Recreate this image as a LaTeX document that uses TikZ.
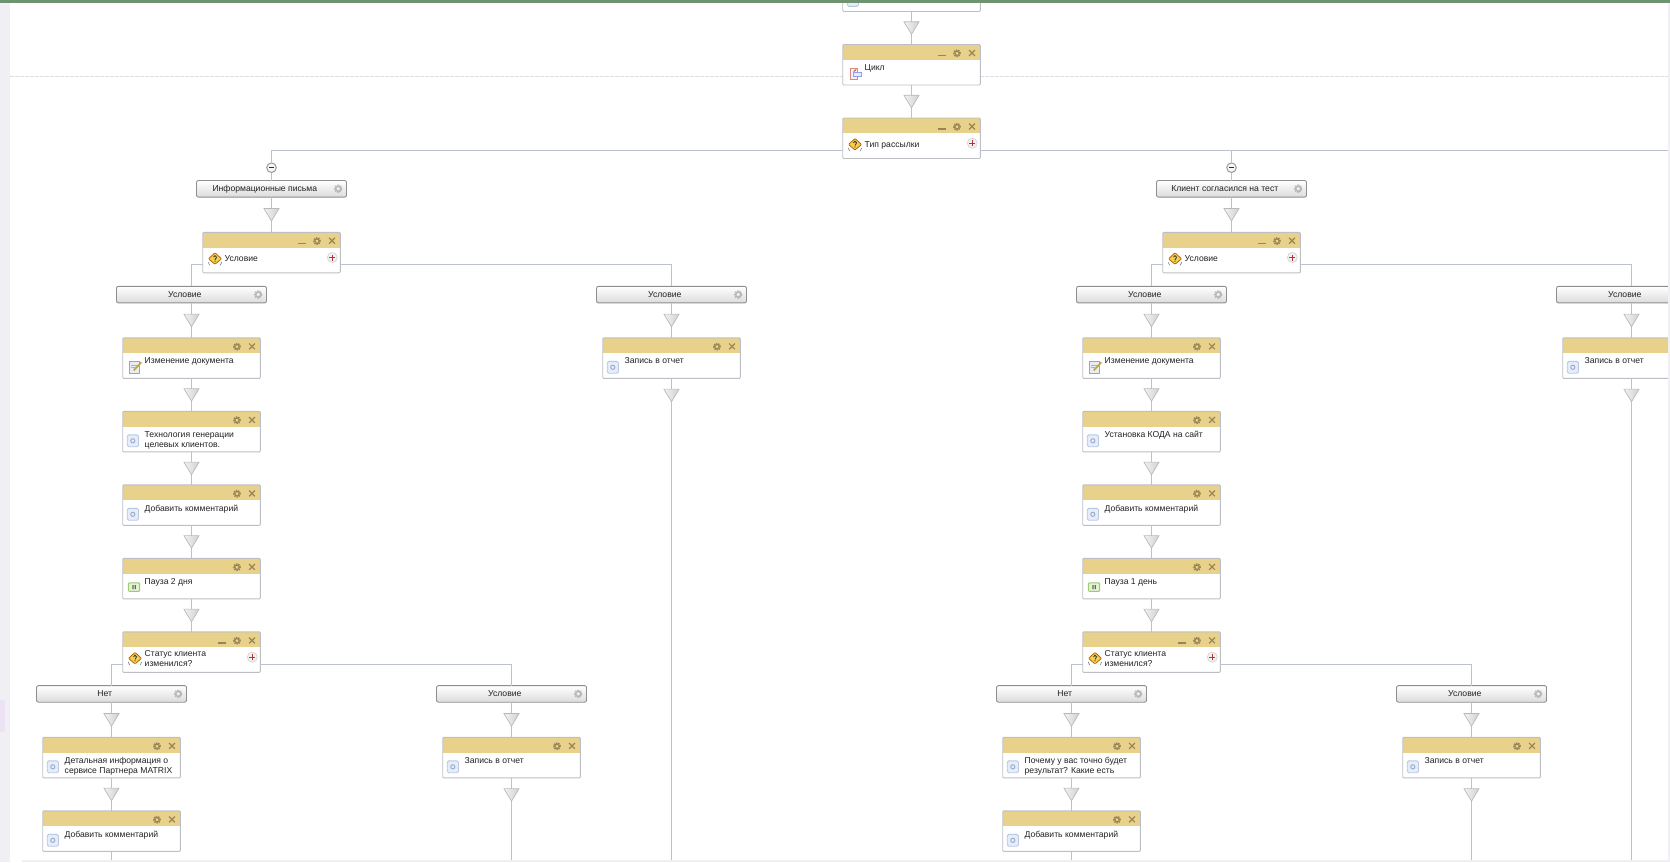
\documentclass[tikz,border=0pt]{standalone}
\usepackage{fontspec}
\setmainfont{Liberation Sans}
\usetikzlibrary{positioning,decorations.markings}
\definecolor{HeadGold}{HTML}{E8D18B}
\definecolor{BoxEdge}{HTML}{BDBFC6}
\definecolor{LinkBlue}{HTML}{BCC1D2}
\definecolor{IconBrown}{HTML}{978554}
\definecolor{TipEdge}{HTML}{B9B9B9}
\definecolor{CaseEdge}{HTML}{8E8E8E}
\definecolor{SideGrey}{HTML}{F0F0F4}
\definecolor{SideLilac}{HTML}{EDE2F3}
\definecolor{TopGreen}{HTML}{6F9270}
\definecolor{InkText}{HTML}{222222}
\definecolor{IconBlue}{HTML}{B7C8E6}
\definecolor{IconPale}{HTML}{E6EDF9}
\definecolor{IconRed}{HTML}{D98A80}
\definecolor{IconGreen}{HTML}{9CCB73}
\definecolor{IconLeaf}{HTML}{E3F2D0}
\definecolor{IconAmber}{HTML}{F3CF4E}
\tikzset{
  gearmark/.pic={\draw[IconBrown,line width=1.6pt,dash pattern=on 1.3pt off 1pt] (0,0) circle (3.1pt);
    \draw[IconBrown,line width=1.2pt] (0,0) circle (2.2pt);},
  closemark/.pic={\draw[IconBrown,line width=1.2pt] (-2.9,-2.9) -- (2.9,2.9) (-2.9,2.9) -- (2.9,-2.9);},
  shrinkmark/.pic={\draw[IconBrown,line width=1.6pt] (-3.8,0) -- (3.8,0);},
  plusmark/.pic={\draw[black!15,fill=black!6,line width=.8pt] (0,0) circle (5pt);
    \draw[red!65!black!80,line width=.9pt] (-3,0) -- (3,0) (0,-3) -- (0,3);},
  svcicon/.pic={\draw[IconBlue,fill=IconPale,line width=.9pt,rounded corners=1.5pt] (4.5,23.5) rectangle (15.8,35.3);
    \draw[IconBlue!85!black,line width=.9pt] (10.1,29.4) circle (2.1pt);},
  condicon/.pic={\draw[black!60,line width=.5pt] (5.5,30) -- (7,33) (19,30) -- (17.5,33);
    \draw[orange!70!black,fill=IconAmber,line width=.7pt,rounded corners=.8pt] (12.3,20.5) -- (18.8,26.5) -- (12.3,32) -- (5.8,26.5) -- cycle;
    \draw[black!80,line width=.8pt] (10.8,24.8) arc[start angle=180,end angle=-50,radius=1.5pt] -- (12.3,27.5) (12.3,28.3) -- (12.3,29.5);},
  loopicon/.pic={\draw[IconRed,fill=red!6,line width=.9pt] (7.5,24) rectangle (14.5,34.5);
    \draw[IconBlue!80!blue,fill=IconPale,line width=.9pt] (10.5,28) rectangle (18.5,32);
    \draw[red!60!black!80,line width=.8pt] (11,27) -- (13.5,25);},
  editicon/.pic={\draw[IconBlue!80!blue,fill=IconPale,line width=.9pt] (6.5,24) rectangle (16.5,35.5);
    \draw[black!30,line width=.6pt] (8.5,27) -- (14.5,27) (8.5,29.5) -- (12.5,29.5);
    \draw[IconAmber!80!black,line width=1.7pt] (11,32.5) -- (18.5,24.5);},
  pauseicon/.pic={\draw[IconGreen,fill=IconLeaf,line width=1pt,rounded corners=1pt] (5.7,24.5) rectangle (17,33);
    \fill[black!60] (9.7,26.8) rectangle (10.9,30.7) (11.9,26.8) rectangle (13.1,30.7);},
  casegear/.pic={\draw[black!28,line width=1.7pt,dash pattern=on 1.4pt off 1pt] (0,0) circle (3.4pt);
    \draw[black!28,line width=1.4pt] (0,0) circle (2.5pt);},
  boxtop/.store in=\boxtop,boxtop=20pt,
  stepbox/.style={draw=BoxEdge,line width=.9pt,rounded corners=1pt,minimum width=137.6pt,minimum height=40.5pt,inner sep=0pt,outer sep=0pt,
    font=\fontsize{8.6}{10}\selectfont,text=InkText,
    execute at begin node={\begin{minipage}[c][40.5pt][t]{137.6pt}\raggedright\leftskip=22pt\vspace*{\boxtop}},
    execute at end node={\end{minipage}},
    append after command={\pgfextra{\begin{scope}[shift={(\tikzlastnode.north west)}]
      \fill[white] (0,0) rectangle (137.6,40.5);
      \fill[HeadGold] (0,0) rectangle (137.6,15.2);
      \pic at (114.3,8.8) {gearmark};
      \pic at (129.3,8.5) {closemark};
      #1
    \end{scope}}}},
  svcbox/.style={stepbox={\pic at (0,0) {svcicon};}},
  editbox/.style={stepbox={\pic at (0,0) {editicon};}},
  pausebox/.style={stepbox={\pic at (0,0) {pauseicon};}},
  loopbox/.style={stepbox={\pic at (0,0) {loopicon};\pic at (99.3,11) {shrinkmark};}},
  condbox/.style={boxtop=#1,stepbox={\pic at (0,0) {condicon};\pic at (99.3,11) {shrinkmark};\pic at (129.6,25.2) {plusmark};}},
  condbox/.default=23.4pt,
  casebtn/.style={draw=CaseEdge,line width=.9pt,rounded corners=2pt,minimum width=150pt,minimum height=16.6pt,inner sep=0pt,outer sep=0pt,
    font=\fontsize{8.6}{10}\selectfont,text=InkText,
    execute at end node={\kern13.4pt},
    append after command={\pgfextra{\shade[top color=white,bottom color=black!14,rounded corners=2pt] (\tikzlastnode.north west) rectangle (\tikzlastnode.south east);
      \pic at ([xshift=-8.3pt]\tikzlastnode.east) {casegear};}}},
  foldmark/.style={circle,draw=LinkBlue!80!black,line width=1pt,minimum size=9.6pt,inner sep=0pt,outer sep=0pt,
    append after command={\pgfextra{\fill[black!3] (\tikzlastnode.center) circle (4.8pt);
      \draw[red!55!black,line width=1.2pt] ([xshift=-2.6pt]\tikzlastnode.center) -- ([xshift=2.6pt]\tikzlastnode.center);}}},
  flowtip/.style={decoration={markings,mark=at position #1 with {\draw[TipEdge,line width=.7pt,left color=black!5,right color=black!18] (-6.3,-7.6) -- (-6.3,7.6) -- (6.3,0) -- cycle;}},postaction={decorate}},
  flowtip/.default=.5,
  link/.style={draw=LinkBlue,line width=1.9pt},
  branch/.style={draw=LinkBlue,line width=1.5pt},
  finebranch/.style={draw=LinkBlue,line width=1pt}
}
\begin{document}
\begin{tikzpicture}[x=1pt,y=-1pt,node distance=33pt]
\useasboundingbox (0,0) rectangle (1670,862);
\begin{scope}
\clip (0,0) rectangle (1668,860);
\draw[black!13,dash pattern=on 3.5pt off 1.5pt,line width=.7pt] (10,76) -- (1668,76);
% centre chain
\node[svcbox] (topstep) at (911.5,-8.75) {};
\node[loopbox,below=of topstep] (cycle) {Цикл};
\node[condbox,below=of cycle] (mailtype) {Тип рассылки};
\draw[link,flowtip] (topstep) -- (cycle);
\draw[link,flowtip] (cycle) -- (mailtype);
\coordinate[right=687.7pt of mailtype.east,yshift=-12pt] (typeend);
\draw[branch] ([yshift=-12pt]mailtype.east) -- (typeend);
% left branch
\node[casebtn,below=22pt of mailtype,xshift=-640pt] (lcase) {Информационные письма};
\node[foldmark,above=8pt of lcase] (lfold) {};
\node[condbox,below=35.2pt of lcase] (lcond) {Условие};
\draw[branch] ([yshift=-12pt]mailtype.west) -| (lfold);
\draw[link] (lfold) -- (lcase);
\draw[link,flowtip] (lcase) -- (lcond);
\node[casebtn,below=13.5pt of lcond,xshift=-80pt] (lcasea) {Условие};
\node[editbox,below=35pt of lcasea] (ledit) {Изменение документа};
\node[svcbox,below=of ledit] (ltech) {Технология генерации\\целевых клиентов.};
\node[svcbox,below=of ltech] (lnote) {Добавить комментарий};
\node[pausebox,below=of lnote] (lpause) {Пауза 2 дня};
\node[condbox=19pt,below=of lpause] (lstatus) {Статус клиента\\изменился?};
\draw[branch] ([yshift=-12pt]lcond.west) -| (lcasea);
\draw[link,flowtip] (lcasea) -- (ledit);
\draw[link,flowtip] (ledit) -- (ltech);
\draw[link,flowtip] (ltech) -- (lnote);
\draw[link,flowtip] (lnote) -- (lpause);
\draw[link,flowtip] (lpause) -- (lstatus);
\node[casebtn,below=13.5pt of lcond,xshift=400pt] (lcaseb) {Условие};
\node[svcbox,below=35pt of lcaseb] (lreport) {Запись в отчет};
\coordinate (lreportend) at (671.5,860);
\draw[branch] ([yshift=-12pt]lcond.east) -| (lcaseb);
\draw[link,flowtip] (lcaseb) -- (lreport);
\draw[link,flowtip=17pt] (lreport) -- (lreportend);
\node[casebtn,below=13.2pt of lstatus,xshift=-80pt] (lno) {Нет};
\node[svcbox,below=35.2pt of lno] (linfo) {Детальная информация о\\сервисе Партнера MATRIX};
\node[svcbox,below=of linfo] (lnoteb) {Добавить комментарий};
\coordinate (lnoteend) at (111.5,860);
\draw[finebranch] ([yshift=-12pt]lstatus.west) -| (lno);
\draw[link,flowtip] (lno) -- (linfo);
\draw[link,flowtip] (linfo) -- (lnoteb);
\draw[link] (lnoteb) -- (lnoteend);
\node[casebtn,below=13.2pt of lstatus,xshift=320pt] (lother) {Условие};
\node[svcbox,below=35.2pt of lother] (lreportb) {Запись в отчет};
\coordinate (lreportbend) at (511.5,860);
\draw[finebranch] ([yshift=-12pt]lstatus.east) -| (lother);
\draw[link,flowtip] (lother) -- (lreportb);
\draw[link,flowtip=17pt] (lreportb) -- (lreportbend);
% right branch
\node[casebtn,below=22pt of mailtype,xshift=320pt] (rcase) {Клиент согласился на тест};
\node[foldmark,above=8pt of rcase] (rfold) {};
\node[condbox,below=35.2pt of rcase] (rcond) {Условие};
\draw[branch] (rfold) -- (rfold |- typeend);
\draw[link] (rfold) -- (rcase);
\draw[link,flowtip] (rcase) -- (rcond);
\node[casebtn,below=13.5pt of rcond,xshift=-80pt] (rcasea) {Условие};
\node[editbox,below=35pt of rcasea] (redit) {Изменение документа};
\node[svcbox,below=of redit] (rcode) {Установка КОДА на сайт};
\node[svcbox,below=of rcode] (rnote) {Добавить комментарий};
\node[pausebox,below=of rnote] (rpause) {Пауза 1 день};
\node[condbox=19pt,below=of rpause] (rstatus) {Статус клиента\\изменился?};
\draw[branch] ([yshift=-12pt]rcond.west) -| (rcasea);
\draw[link,flowtip] (rcasea) -- (redit);
\draw[link,flowtip] (redit) -- (rcode);
\draw[link,flowtip] (rcode) -- (rnote);
\draw[link,flowtip] (rnote) -- (rpause);
\draw[link,flowtip] (rpause) -- (rstatus);
\node[casebtn,below=13.5pt of rcond,xshift=400pt] (rcaseb) {Условие};
\node[svcbox,below=35pt of rcaseb] (rreport) {Запись в отчет};
\coordinate (rreportend) at (1631.5,860);
\draw[branch] ([yshift=-12pt]rcond.east) -| (rcaseb);
\draw[link,flowtip] (rcaseb) -- (rreport);
\draw[link,flowtip=17pt] (rreport) -- (rreportend);
\node[casebtn,below=13.2pt of rstatus,xshift=-80pt] (rno) {Нет};
\node[svcbox,below=35.2pt of rno] (rwhy) {Почему у вас точно будет\\результат? Какие есть};
\node[svcbox,below=of rwhy] (rnoteb) {Добавить комментарий};
\coordinate (rnoteend) at (1071.5,860);
\draw[finebranch] ([yshift=-12pt]rstatus.west) -| (rno);
\draw[link,flowtip] (rno) -- (rwhy);
\draw[link,flowtip] (rwhy) -- (rnoteb);
\draw[link] (rnoteb) -- (rnoteend);
\node[casebtn,below=13.2pt of rstatus,xshift=320pt] (rother) {Условие};
\node[svcbox,below=35.2pt of rother] (rreportb) {Запись в отчет};
\coordinate (rreportbend) at (1471.5,860);
\draw[finebranch] ([yshift=-12pt]rstatus.east) -| (rother);
\draw[link,flowtip] (rother) -- (rreportb);
\draw[link,flowtip=17pt] (rreportb) -- (rreportbend);
\end{scope}
% window edges
\fill[TopGreen] (0,0) rectangle (1670,2.5);
\fill[SideGrey] (0,2.5) rectangle (10,862);
\fill[SideLilac] (0,700) rectangle (5,732);
\fill[SideGrey] (1668,2.5) rectangle (1670,862);
\fill[SideGrey] (22,860) rectangle (1668,862);
\end{tikzpicture}
\end{document}
